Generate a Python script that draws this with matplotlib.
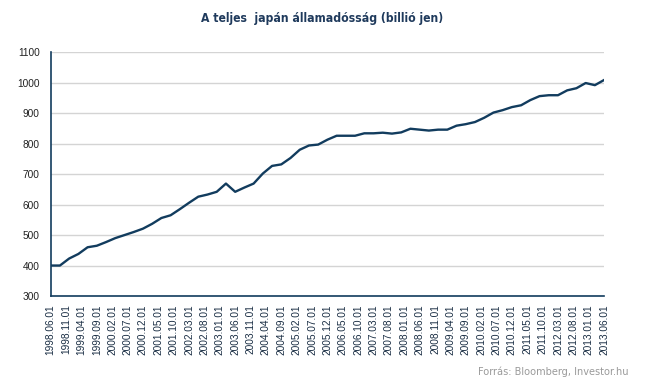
import matplotlib
matplotlib.use('Agg')
import matplotlib.pyplot as plt

# quarterly readings, months counted from 1998.06
debt = [400, 400, 423, 438, 460, 465, 477, 490, 500, 510,
        521, 537, 556, 565, 585, 606, 626, 633, 642, 669,
        642, 656, 669, 702, 727, 732, 753, 780, 794, 797,
        813, 826, 826, 826, 834, 834, 836, 833, 837, 849,
        846, 843, 846, 846, 859, 864, 871, 885, 902, 910,
        920, 926, 943, 956, 959, 959, 975, 982, 999, 992,
        1009]
months = [3 * i for i in range(len(debt))]

tick_labels = ['1998.06.01', '1998.11.01', '1999.04.01', '1999.09.01', '2000.02.01',
               '2000.07.01', '2000.12.01', '2001.05.01', '2001.10.01', '2002.03.01',
               '2002.08.01', '2003.01.01', '2003.06.01', '2003.11.01', '2004.04.01',
               '2004.09.01', '2005.02.01', '2005.07.01', '2005.12.01', '2006.05.01',
               '2006.10.01', '2007.03.01', '2007.08.01', '2008.01.01', '2008.06.01',
               '2008.11.01', '2009.04.01', '2009.09.01', '2010.02.01', '2010.07.01',
               '2010.12.01', '2011.05.01', '2011.10.01', '2012.03.01', '2012.08.01',
               '2013.01.01', '2013.06.01']
tick_pos = [5 * i for i in range(len(tick_labels))]

navy = '#123c5e'

fig = plt.figure(figsize=(6.45, 3.9), dpi=100)
ax = fig.add_axes([0.0786, 0.241, 0.858, 0.625])

ax.plot(months, debt, color=navy, linewidth=1.7, solid_joinstyle='round')

ax.set_xlim(0, 180)
ax.set_ylim(300, 1100)
ax.set_yticks(range(300, 1101, 100))
ax.set_xticks(tick_pos)
ax.set_xticklabels(tick_labels, rotation=90)

ax.grid(axis='y', color='#d4d4d4', linewidth=1.0)
ax.set_axisbelow(True)
for side in ['top', 'right']:
    ax.spines[side].set_visible(False)
for side in ['left', 'bottom']:
    ax.spines[side].set_color(navy)
    ax.spines[side].set_linewidth(1.2)

ax.tick_params(axis='both', length=0, labelsize=7.3)
ax.tick_params(axis='y', pad=8, labelcolor='#222222')
ax.tick_params(axis='x', pad=6, labelcolor='#1a2e44')
for lab in ax.get_xticklabels() + ax.get_yticklabels():
    lab.set_family(['Liberation Sans', 'DejaVu Sans'])

fig.text(0.5, 0.953, 'A teljes  japán államadósság (billió jen)', ha='center', va='center',
         fontsize=8.7, fontweight='bold', color='#1f3a5c',
         family=['DejaVu Sans'], fontstretch='condensed')
fig.text(0.975, 0.046, 'Forrás: Bloomberg, Investor.hu', ha='right', va='center',
         fontsize=7.8, color='#9a9a9a', family=['DejaVu Sans'], fontstretch='condensed')

fig.savefig('out.png', dpi=100)
